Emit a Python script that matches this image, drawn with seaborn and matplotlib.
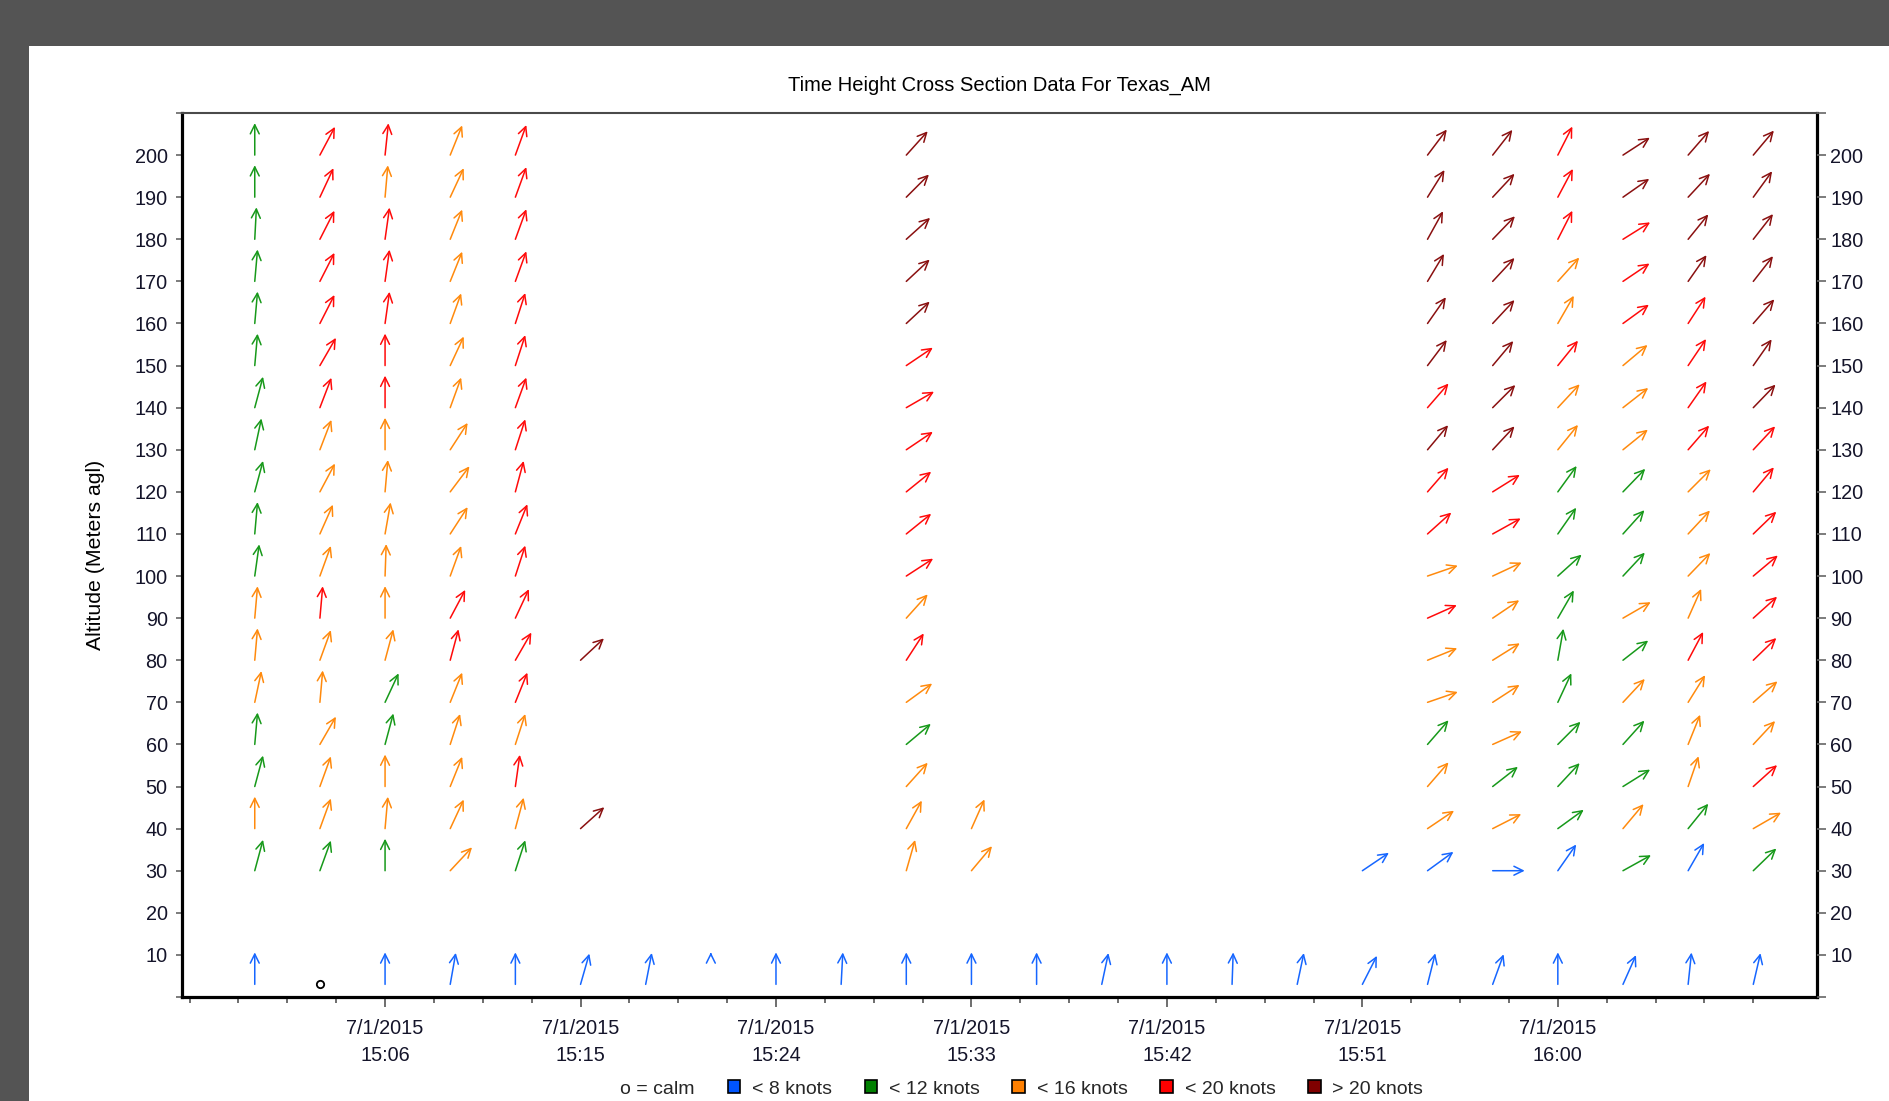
import numpy as np
import pandas as pd
import matplotlib
matplotlib.use('Agg')
import matplotlib.pyplot as plt
import matplotlib.dates as mdates
import matplotlib.ticker as mticker
import matplotlib.transforms as mtransforms
from matplotlib.patches import Patch, Rectangle
from matplotlib.lines import Line2D
import seaborn as sns

# profiler samples every 3 minutes
times = pd.date_range('2015-07-01 15:00', periods=24, freq='3min')
levels = [200, 190, 180, 170, 160, 150, 140, 130, 120, 110, 100, 90, 80, 70, 60, 50, 40, 30]
surface_level = 3

N = None
# direction the wind blows toward (deg clockwise from north), rows follow `levels`
wind_dir = [
    [0, 28, 6, 22, 20, N, N, N, N, N, 42, N, N, N, N, N, N, N, 37, 38, 27, 57, 41, 40],
    [0, 25, 5, 25, 20, N, N, N, N, N, 45, N, N, N, N, N, N, N, 32, 43, 28, 55, 43, 36],
    [3, 27, 8, 22, 20, N, N, N, N, N, 48, N, N, N, N, N, N, N, 29, 44, 27, 58, 39, 38],
    [5, 27, 8, 22, 20, N, N, N, N, N, 47, N, N, N, N, N, N, N, 31, 43, 42, 56, 35, 38],
    [5, 27, 8, 20, 18, N, N, N, N, N, 47, N, N, N, N, N, N, N, 35, 43, 30, 54, 33, 41],
    [5, 30, 0, 25, 18, N, N, N, N, N, 56, N, N, N, N, N, N, N, 37, 40, 39, 50, 34, 35],
    [15, 21, 0, 20, 20, N, N, N, N, N, 60, N, N, N, N, N, N, N, 41, 45, 43, 52, 35, 44],
    [12, 21, 0, 33, 18, N, N, N, N, N, 56, N, N, N, N, N, N, N, 40, 43, 39, 51, 41, 43],
    [15, 28, 5, 37, 15, N, N, N, N, N, 51, N, N, N, N, N, N, N, 41, 58, 36, 44, 45, 40],
    [5, 24, 10, 33, 22, N, N, N, N, N, 51, N, N, N, N, N, N, N, 48, 61, 35, 42, 43, 46],
    [8, 20, 2, 20, 18, N, N, N, N, N, 57, N, N, N, N, N, N, N, 71, 65, 48, 43, 44, 50],
    [5, 5, 0, 28, 25, N, N, N, N, N, 42, N, N, N, N, N, N, N, 66, 56, 30, 60, 24, 48],
    [5, 20, 15, 15, 30, 47, N, N, N, N, 33, N, N, N, N, N, N, N, 68, 58, 10, 52, 28, 46],
    [12, 5, 25, 22, 22, N, N, N, N, N, 54, N, N, N, N, N, N, N, 71, 57, 25, 43, 32, 49],
    [5, 30, 15, 18, 18, N, N, N, N, N, 50, N, N, N, N, N, N, N, 41, 66, 45, 42, 22, 43],
    [15, 20, 0, 22, 8, N, N, N, N, N, 42, N, N, N, N, N, N, N, 41, 52, 43, 58, 19, 48],
    [0, 20, 5, 25, 15, 48, N, N, N, N, 29, 24, N, N, N, N, N, N, 56, 63, 54, 40, 39, 60],
    [15, 20, 0, 43, 18, N, N, N, N, N, 16, 40, N, N, N, N, N, 56, 54, 90, 35, 61, 30, 46],
]
surface_dir = [0, N, 0, 10, 0, 16, 11, 0, 0, 3, 0, 0, 0, 12, 0, 2, 12, 27, 14, 20, 0, 24, 6, 13]

# speed class: b <8, g <12, o <16, r <20, d >20 knots, c calm, v very light, . no data
wind_cls = [
    'grror.....d.......ddrddd',
    'groor.....d.......ddrddd',
    'grror.....d.......ddrrdd',
    'grror.....d.......ddordd',
    'grror.....d.......ddorrd',
    'grror.....r.......ddrord',
    'grror.....r.......rdoord',
    'gooor.....r.......ddoorr',
    'gooor.....r.......rrggor',
    'gooor.....r.......rrggor',
    'gooor.....r.......ooggor',
    'ororr.....o.......rogoor',
    'ooorrd....r.......ooggrr',
    'oogor.....o.......oogooo',
    'gogoo.....g.......goggoo',
    'gooor.....o.......ogggor',
    'oooood....oo......oogogo',
    'gggog.....oo.....bbbbgbg',
]
surface_cls = 'bcbbbbbvbbbbbbbbbbbbbbbb'

arrow_colors = {'b': '#1666ff', 'v': '#1666ff', 'g': '#17991a', 'o': '#ff8a0d',
                'r': '#ff0a0a', 'd': '#8a1010'}
legend_labels = ['< 8 knots', '< 12 knots', '< 16 knots', '< 20 knots', '> 20 knots']
legend_colors = ['#0055ff', '#008000', '#ff8000', '#ff0000', '#800000']

major_times = ['15:06', '15:15', '15:24', '15:33', '15:42', '15:51', '16:00']
date_label = '7/1/2015'

# long table of all samples
rows = []
for lev, drow, crow in zip(levels + [surface_level], wind_dir + [surface_dir], wind_cls + [surface_cls]):
    for t, d, c in zip(times, drow, crow):
        if c != '.':
            rows.append({'time': t, 'level': lev, 'dir': d, 'cls': c})
df = pd.DataFrame(rows)
df['x'] = mdates.date2num(df['time'])

sns.set_style('ticks')
plt.rcParams['font.family'] = ['Liberation Sans', 'DejaVu Sans']

fig = plt.figure(figsize=(18.89, 11.01), dpi=100, facecolor='#545454')
fig.patches.append(Rectangle((29 / 1889, 0), 1, 1 - 46 / 1101, transform=fig.transFigure,
                             facecolor='white', edgecolor='none', zorder=-10))
ax = fig.add_axes([182 / 1889, 1 - 997 / 1101, 1635 / 1889, 884 / 1101])
ax.set_facecolor('white')

L = 32  # arrow length, pixels
for _, r in df.iterrows():
    if r['cls'] == 'c':
        continue
    th = np.radians(r['dir'])
    dx, dy = L * np.sin(th), L * np.cos(th)
    style = dict(arrowstyle='<-,head_length=0.65,head_width=0.32', color=arrow_colors[r['cls']],
                 lw=1.1, shrinkA=0, shrinkB=0)
    if r['cls'] == 'v':
        # barely moving: only the tip is visible
        tr = mtransforms.offset_copy(ax.transData, fig=fig, x=dx * 0.9, y=dy * 0.9, units='dots')
        ax.annotate('', xy=(r['x'], r['level']), xycoords=tr, xytext=(dx * 0.1, dy * 0.1),
                    textcoords='offset pixels', arrowprops=style)
    else:
        ax.annotate('', xy=(r['x'], r['level']), xytext=(dx, dy),
                    textcoords='offset pixels', arrowprops=style)

calm = df[df['cls'] == 'c']
sns.scatterplot(x=calm['x'], y=calm['level'], marker='o', s=28, color='white',
                edgecolor='black', linewidth=1.3, ax=ax, zorder=5)

ax.set_xlim(mdates.date2num(pd.Timestamp('2015-07-01 14:56:39')),
            mdates.date2num(pd.Timestamp('2015-07-01 16:11:56')))
ax.set_ylim(0, 210)

major_pos = mdates.date2num(pd.to_datetime(['2015-07-01 ' + t for t in major_times]))
ax.xaxis.set_major_locator(mticker.FixedLocator(major_pos))
ax.set_xticklabels([date_label + '\n' + t for t in major_times])
minor_pos = mdates.date2num(pd.date_range('2015-07-01 14:57', '2015-07-01 16:09', freq='135s'))
ax.xaxis.set_minor_locator(mticker.FixedLocator(minor_pos))

yt = np.arange(0, 211, 10)
ylabels = ['' if (v == 0 or v == 210) else str(v) for v in yt]
ax.set_yticks(yt)
ax.set_yticklabels(ylabels)

fs = 14.3
lab_col = '#14142a'
ax.tick_params(axis='x', which='major', direction='out', length=7.2, width=1.2, color='#555555',
               pad=9, labelsize=fs, labelcolor=lab_col)
ax.tick_params(axis='x', which='minor', direction='out', length=4.3, width=1.2, color='#555555')
ax.tick_params(axis='y', direction='out', length=4.3, width=1.2, color='#666666',
               pad=6, labelsize=fs, labelcolor=lab_col)
for lbl in ax.get_xticklabels():
    lbl.set_linespacing(1.5)

ax2 = ax.twinx()
ax2.set_ylim(0, 210)
ax2.set_yticks(yt)
ax2.set_yticklabels(ylabels)
ax2.tick_params(axis='y', direction='out', length=6.5, width=1.2, color='#666666',
                pad=3, labelsize=fs, labelcolor=lab_col)
for s in ax2.spines.values():
    s.set_visible(False)

for side in ['left', 'bottom', 'right']:
    ax.spines[side].set_linewidth(2.3)
    ax.spines[side].set_color('black')
ax.spines['top'].set_linewidth(1.5)
ax.spines['top'].set_color('#4a4a4a')

ax.set_title('Time Height Cross Section Data For Texas_AM', fontsize=14.5, pad=16, color='black')
ax.set_ylabel('Altitude (Meters agl)', fontsize=15.3, color='black')
ax.yaxis.set_label_coords(-0.0468, 0.5)
ax.set_xlabel('')

handles = [Line2D([], [], linestyle='none')] + \
    [Patch(facecolor=c, edgecolor='black', linewidth=1.2) for c in legend_colors]
fig.legend(handles, ['o = calm'] + legend_labels, loc='center', bbox_to_anchor=(0.5345, 0.0110),
           ncol=6, frameon=False, fontsize=14, handlelength=0.65, handleheight=0.65,
           handletextpad=0.6, columnspacing=1.68, borderpad=0.2)

fig.savefig('out.png', dpi=100, facecolor=fig.get_facecolor())
